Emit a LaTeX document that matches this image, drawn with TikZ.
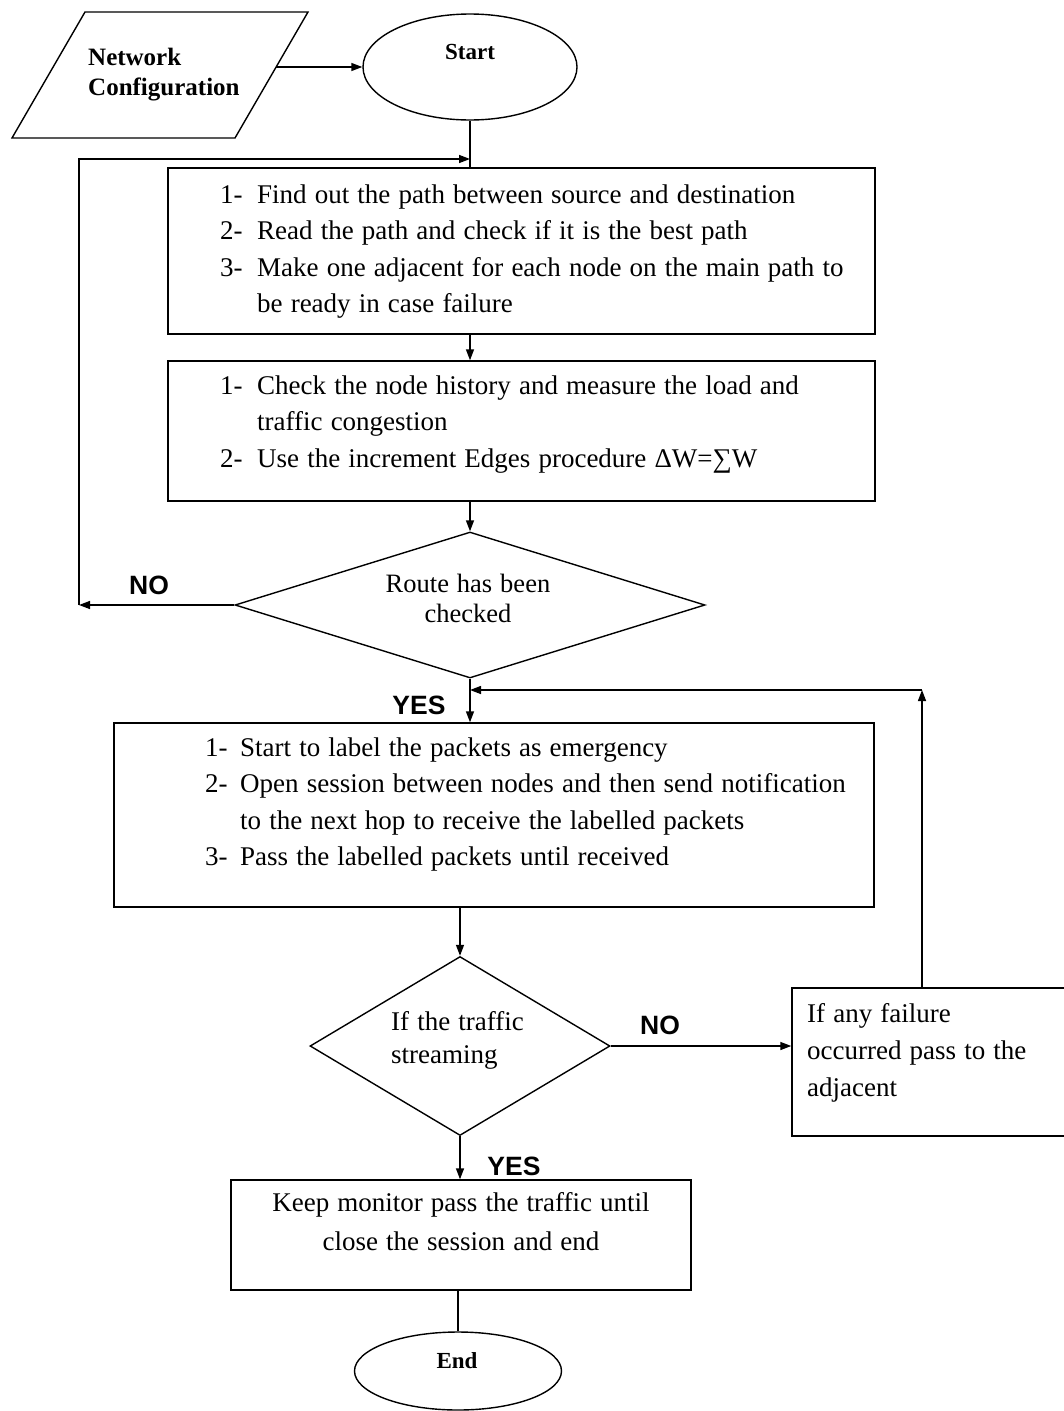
\documentclass[tikz,border=0pt]{standalone}
\usepackage{fontspec}
\setmainfont{Liberation Serif}[WordSpace=1.2]
\newfontfamily\labfont{Liberation Sans}
\usetikzlibrary{shapes.geometric,arrows.meta}
\begin{document}
\begin{tikzpicture}[x=1pt,y=-1pt,
  ln/.style={line width=1.4pt},
  arr/.style={ln,-{Triangle[length=11pt,width=8pt]}},
  boxs/.style={draw,ln,rectangle,inner sep=0pt},
  dia/.style={draw,ln,diamond,inner sep=0pt},
  ell/.style={draw,ln,ellipse,inner sep=0pt},
  txt/.style={inner sep=0pt,font=\fontsize{27}{36.5}\selectfont},
  btxt/.style={inner sep=0pt,font=\bfseries\fontsize{25}{30}\selectfont},
  yn/.style={inner sep=0pt,font=\labfont\bfseries\fontsize{26.5}{28}\selectfont},
]
\useasboundingbox[fill=white] (0,0) rectangle (1064,1411);

% input parallelogram
\draw[ln] (85,12) coordinate (p1) -- (308,12) coordinate (p2) -- (235,138) coordinate (p3) -- (12,138) coordinate (p4) -- cycle;
\coordinate (pcfg) at (276,67);
\node[btxt,anchor=base west] (cfg) at (88,65) {\begin{tabular}[t]{@{}l@{}}Network\\ Configuration\end{tabular}};

% start
\node[ell,minimum width=214pt,minimum height=106pt] (start) at (470,67) {};
\node[btxt,font=\bfseries\fontsize{23}{30}\selectfont,anchor=base] (startt) at (470,59) {Start};

% box 1
\node[boxs,minimum width=707pt,minimum height=166pt] (b1) at (521.5,251) {};
\node[txt,anchor=base west] (t1) at (220,203) {\begin{tabular}[t]{@{}p{37pt}@{}l@{}}1- & Find out the path between source and destination\\ 2- & Read the path and check if it is the best path\\ 3- & Make one adjacent for each node on the main path to\\ & be ready in case failure\end{tabular}};

% box 2
\node[boxs,minimum width=707pt,minimum height=140pt] (b2) at (521.5,431) {};
\node[txt,anchor=base west] (t2) at (220,394) {\begin{tabular}[t]{@{}p{37pt}@{}l@{}}1- & Check the node history and measure the load and\\ & traffic congestion\\ 2- & Use the increment Edges procedure ΔW=∑W\end{tabular}};

% diamond 1
\node[dia,minimum width=470pt,minimum height=146pt] (d1) at (470,605) {};
\node[txt,font=\fontsize{26.5}{30}\selectfont,anchor=base] (td1) at (468,592) {\begin{tabular}[t]{@{}c@{}}Route has been\\ checked\end{tabular}};

% box 3
\node[boxs,minimum width=760pt,minimum height=184pt] (b3) at (494,815) {};
\node[txt,anchor=base west] (t3) at (205,756) {\begin{tabular}[t]{@{}p{35pt}@{}l@{}}1- & Start to label the packets as emergency\\ 2- & Open session between nodes and then send notification\\ & to the next hop to receive the labelled packets\\ 3- & Pass the labelled packets until received\end{tabular}};

% diamond 2
\node[dia,minimum width=300pt,minimum height=179pt] (d2) at (460,1046) {};
\node[txt,font=\fontsize{27}{33}\selectfont,anchor=base west] (td2) at (391,1030) {\begin{tabular}[t]{@{}l@{}}If the traffic\\ streaming\end{tabular}};

% right box
\node[boxs,minimum width=276pt,minimum height=148pt] (rb) at (930,1062) {};
\node[txt,font=\fontsize{27}{37}\selectfont,anchor=base west] (trb) at (807,1022) {\begin{tabular}[t]{@{}l@{}}If any failure\\ occurred pass to the\\ adjacent\end{tabular}};

% box 4
\node[boxs,minimum width=460pt,minimum height=110pt] (b4) at (461,1235) {};
\node[txt,font=\fontsize{27}{39}\selectfont,anchor=base] (t4) at (461,1211) {\begin{tabular}[t]{@{}c@{}}Keep monitor pass the traffic until\\ close the session and end\end{tabular}};

% end
\node[ell,minimum width=207pt,minimum height=78pt] (end) at (458,1371) {};
\node[btxt,font=\bfseries\fontsize{23}{30}\selectfont,anchor=base] (endt) at (457,1368) {End};

% labels
\node[yn,anchor=base] (no1) at (149,594) {NO};
\node[yn,anchor=base] (yes1) at (419,714) {YES};
\node[yn,anchor=base] (no2) at (660,1034) {NO};
\node[yn,anchor=base] (yes2) at (514,1175) {YES};

% connectors
\coordinate (fl) at (79,605);
\coordinate (ft) at (470,159);
\coordinate (fbr) at (922,690);
\draw[arr] (pcfg) -- (pcfg -| start.west);
\draw[ln] (start.south) -- (start.south |- b1.north);
\draw[arr] (d1.west) -- (fl);
\draw[arr] (fl) |- (ft);
\draw[arr] (b1.south -| d1.north) -- (b2.north -| d1.north);
\draw[arr] (b2.south -| d1.north) -- (d1.north);
\draw[arr] (d1.south) -- (d1.south |- b3.north);
\draw[arr] (rb.north -| fbr) -- (fbr);
\draw[arr] (fbr) -- (fbr -| d1.south);
\draw[arr] (b3.south -| d2.north) -- (d2.north);
\draw[arr] (d2.east) -- (d2.east -| rb.west);
\draw[arr] (d2.south) -- (d2.south |- b4.north);
\draw[ln] (b4.south -| end.north) -- (end.north);
\end{tikzpicture}
\end{document}
